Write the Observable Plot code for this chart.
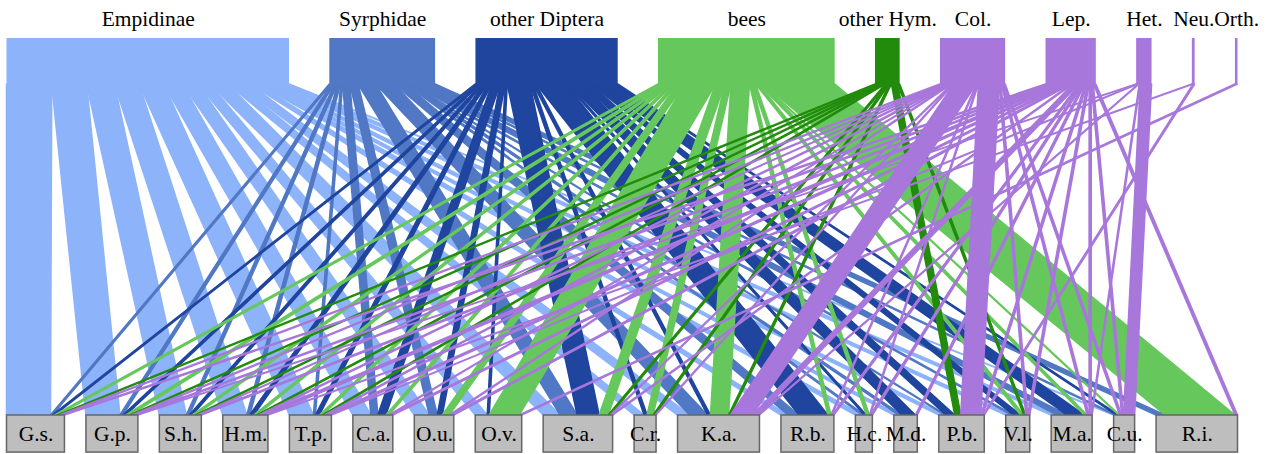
<!DOCTYPE html>
<html><head><meta charset="utf-8">
<script src="https://cdn.jsdelivr.net/npm/d3@7"></script>
<script src="https://cdn.jsdelivr.net/npm/@observablehq/plot@0.6"></script>
<style>html,body{margin:0;padding:0;background:#fff} svg text{font-family:"Liberation Serif","Times New Roman",serif !important;}</style>
</head><body><div id="chart"></div>
<script>
// lower level (plants)
const plants = ["G.s.","G.p.","S.h.","H.m.","T.p.","C.a.","O.u.","O.v.","S.a.","C.r.","K.a.","R.b.","H.c.","M.d.","P.b.","V.l.","M.a.","C.u.","R.i."];
// higher level (visitor groups)
const groups = ["Empidinae","Syrphidae","other Diptera","bees","other Hym.","Col.","Lep.","Het.","Neu.","Orth."];
const groupColors = ["#8DB3FA","#5078C4","#1F459E","#66C85C","#228B0C","#A877DB","#A877DB","#A877DB","#A877DB","#A877DB"];

// interaction counts (one array per visitor group, values in plant order)
const empidinae    = [44,34,27,24,24,18,15,12,17,10,12,7,7,5,6,6,6,1,0];
const syrphidae    = [2,3,3,3,2,7,8,0,17,0,18,11,2,3,1,2,10,2,9];
const otherDiptera = [2,3,3,4,4,8,5,2,22,3,3,29,2,13.5,9,7,17,2,0];
const bees         = [3,4,3,3,3,3,7,30,9,6,18,3,3,0,0,3,3,1,70];
const otherHym     = [2,2,2,2,2,0,0,0,2,2,2,0,0,0,6,2,0,0,0];
const col          = [2,2,1,2,2,1,1.5,0,1,1,22,1,1,0,20,2,2,2,0];
const lep          = [3,3,3,6,4,3,3,0,1.5,0,6,2,2,2,2,2,2,2,2.5];
const het          = [0,1,0,0,1,0,0,0,0,0,1,0,0,0,0,0,1,11,0];
const neu          = [0,0,0,1.2,0,0,0,0,0,0,0,0,0,0,1.5,0,0,0,0];
const orth         = [0,0,0,0,0,0,0,2.5,0,0,0,0,0,0,0,0,0,0,0];
const web = [empidinae, syrphidae, otherDiptera, bees, otherHym, col, lep, het, neu, orth];

// layout (plotweb style: each level spans [0,1] with its own spacing)
const nH = groups.length, nL = plants.length;
const highTot = web.map(r => d3.sum(r));
const lowTot = plants.map((_, i) => d3.sum(web, r => r[i]));
const T = d3.sum(highTot);
const lowSpacing = 0.01745, highSpacing = 0.03274;
const kL = (1 - (nL - 1) * lowSpacing) / T;
const kH = (1 - (nH - 1) * highSpacing) / T;
const highBoxH = 0.139, lowBoxH = 0.112, labelOff = 0.058;

let cx = 0;
const highBoxes = groups.map((g, j) => { const w = highTot[j] * kH; const b = {name: g, group: g, x1: cx, x2: cx + w, y1: 1, y2: 1 + highBoxH, ly: 1 + highBoxH + labelOff}; cx += w + highSpacing; return b; });
cx = 0;
const lowBoxes = plants.map((p, i) => { const w = lowTot[i] * kL; const b = {name: p, x1: cx, x2: cx + w, y1: 0, y2: -lowBoxH, ly: -lowBoxH / 2}; cx += w + lowSpacing; return b; });

// segments
const topSeg = groups.map(() => []);
groups.forEach((g, j) => { let c = highBoxes[j].x1; plants.forEach((p, i) => { const w = web[j][i] * kH; topSeg[j][i] = [c, c + w]; c += w; }); });
const lowSeg = plants.map(() => []);
plants.forEach((p, i) => { let c = lowBoxes[i].x1; groups.forEach((g, j) => { const w = web[j][i] * kL; lowSeg[i][j] = [c, c + w]; c += w; }); });

const pts = [];
groups.forEach((g, j) => plants.forEach((p, i) => {
  if (web[j][i] > 0) {
    const id = g + "|" + p;
    pts.push({id, group: g, y: 1, x1: topSeg[j][i][0], x2: topSeg[j][i][1]});
    pts.push({id, group: g, y: 0, x1: lowSeg[i][j][0], x2: lowSeg[i][j][1]});
  }
}));

const font = "Liberation Serif";
const chart = Plot.plot({
  width: 1272, height: 454,
  marginLeft: 6.5, marginRight: 34.5, marginTop: 84, marginBottom: 39,
  x: {domain: [0, 1], axis: null},
  y: {domain: [0, 1], axis: null},
  color: {domain: groups, range: groupColors},
  style: {background: "#fff", fontFamily: "Liberation Serif, serif"},
  marks: [
    Plot.areaX(pts, {y: "y", x1: "x1", x2: "x2", z: "id", fill: "group", stroke: "group", strokeWidth: 1.6, strokeLinejoin: "miter", curve: "linear"}),
    Plot.rect(highBoxes, {x1: "x1", x2: "x2", y1: "y1", y2: "y2", fill: "group"}),
    Plot.rect(lowBoxes, {x1: "x1", x2: "x2", y1: "y1", y2: "y2", fill: "#BEBEBE", stroke: "#666666", strokeWidth: 1.5}),
    Plot.text(highBoxes, {x: d => (d.x1 + d.x2) / 2, y: "ly", text: "name", fontSize: 21.5, fontFamily: font, fill: "#000"}),
    Plot.text(lowBoxes, {x: d => (d.x1 + d.x2) / 2, y: "ly", text: "name", fontSize: 21.5, fontFamily: font, fill: "#000"})
  ]
});
document.getElementById("chart").append(chart);
</script>
</body></html>
